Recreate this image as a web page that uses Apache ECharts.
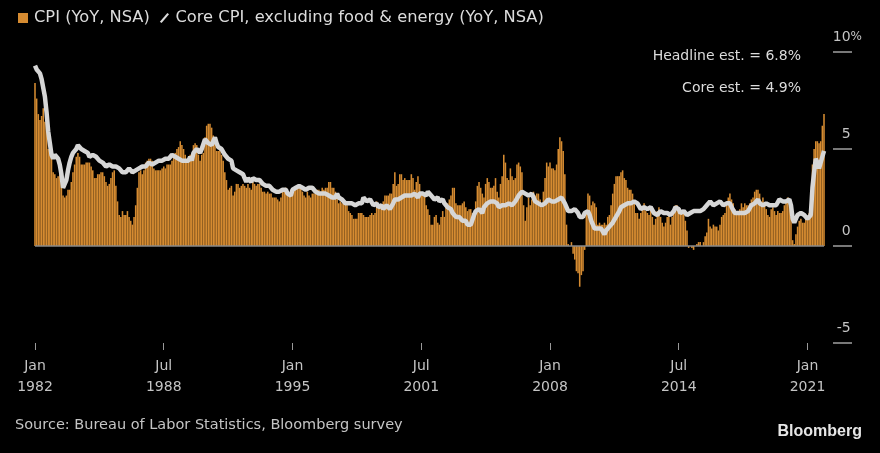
<!DOCTYPE html>
<html>
<head>
<meta charset="utf-8">
<script src="https://cdn.jsdelivr.net/npm/echarts@6/dist/echarts.min.js"></script>
<style>
html,body{margin:0;padding:0;background:#000;}
#chart{width:880px;height:453px;}
</style>
</head>
<body>
<div id="chart"></div>
<script>
// Monthly data, Jan 1982 .. Nov 2021 (last month = Bloomberg survey estimate)
var startYear = 1982;
var monthNames = ['Jan','Feb','Mar','Apr','May','Jun','Jul','Aug','Sep','Oct','Nov','Dec'];

var cpiYoY = [
 8.4,7.6,6.8,6.5,6.7,7.1,6.4,5.9,5.0,5.1,4.6,3.8,
 3.7,3.5,3.6,3.9,3.5,2.6,2.5,2.6,2.9,2.9,3.3,3.8,
 4.2,4.6,4.8,4.6,4.2,4.2,4.2,4.3,4.3,4.3,4.1,3.9,
 3.5,3.5,3.7,3.7,3.8,3.8,3.6,3.3,3.1,3.2,3.5,3.8,
 3.9,3.1,2.3,1.6,1.5,1.8,1.6,1.6,1.8,1.5,1.3,1.1,
 1.5,2.1,3.0,3.8,3.9,3.7,3.9,4.3,4.4,4.5,4.5,4.4,
 4.0,3.9,3.9,3.9,3.9,4.0,4.1,4.0,4.2,4.2,4.2,4.4,
 4.7,4.8,5.0,5.1,5.4,5.2,5.0,4.7,4.3,4.5,4.7,4.6,
 5.2,5.3,5.2,4.7,4.4,4.7,4.8,5.6,6.2,6.3,6.3,6.1,
 5.7,5.3,4.9,4.9,5.0,4.7,4.4,3.8,3.4,2.9,3.0,3.1,
 2.6,2.8,3.2,3.2,3.0,3.1,3.2,3.1,3.0,3.2,3.0,2.9,
 3.3,3.2,3.1,3.2,3.2,3.0,2.8,2.8,2.7,2.8,2.7,2.7,
 2.5,2.5,2.5,2.4,2.3,2.5,2.8,2.9,3.0,2.6,2.7,2.7,
 2.8,2.9,2.9,3.1,3.2,3.0,2.8,2.6,2.5,2.8,2.6,2.5,
 2.7,2.7,2.8,2.9,2.9,2.8,3.0,2.9,3.0,3.0,3.3,3.3,
 3.0,3.0,2.8,2.5,2.2,2.3,2.2,2.2,2.2,2.1,1.8,1.7,
 1.6,1.4,1.4,1.4,1.7,1.7,1.7,1.6,1.5,1.5,1.5,1.6,
 1.7,1.6,1.7,2.3,2.1,2.0,2.1,2.3,2.6,2.6,2.6,2.7,
 2.7,3.2,3.8,3.1,3.2,3.7,3.7,3.4,3.5,3.4,3.4,3.4,
 3.7,3.5,2.9,3.3,3.6,3.2,2.7,2.7,2.6,2.1,1.9,1.6,
 1.1,1.1,1.5,1.6,1.2,1.1,1.5,1.8,1.5,2.0,2.2,2.4,
 2.6,3.0,3.0,2.2,2.1,2.1,2.1,2.2,2.3,2.0,1.8,1.9,
 1.9,1.7,1.7,2.3,3.1,3.3,3.0,2.7,2.5,3.2,3.5,3.3,
 3.0,3.0,3.1,3.5,2.8,2.5,3.2,3.6,4.7,4.3,3.5,3.4,
 4.0,3.6,3.4,3.5,4.2,4.3,4.1,3.8,2.1,1.3,2.0,2.5,
 2.1,2.4,2.8,2.6,2.7,2.7,2.4,2.0,2.8,3.5,4.3,4.1,
 4.3,4.0,4.0,3.9,4.2,5.0,5.6,5.4,4.9,3.7,1.1,0.1,
 0.0,0.2,-0.4,-0.7,-1.3,-1.4,-2.1,-1.5,-1.3,-0.2,1.8,2.7,
 2.6,2.1,2.3,2.2,2.0,1.1,1.2,1.1,1.1,1.2,1.1,1.5,
 1.6,2.1,2.7,3.2,3.6,3.6,3.6,3.8,3.9,3.5,3.4,3.0,
 2.9,2.9,2.7,2.3,1.7,1.7,1.4,1.7,2.0,2.2,1.8,1.7,
 1.6,2.0,1.5,1.1,1.4,1.8,2.0,1.5,1.2,1.0,1.2,1.5,
 1.6,1.1,1.5,2.0,2.1,2.1,2.0,1.7,1.7,1.7,1.3,0.8,
 -0.1,0.0,-0.1,-0.2,0.0,0.1,0.2,0.2,0.0,0.2,0.5,0.7,
 1.4,1.0,0.9,1.1,1.0,1.0,0.8,1.1,1.5,1.6,1.7,2.1,
 2.5,2.7,2.4,2.2,1.9,1.6,1.7,1.9,2.2,2.0,2.2,2.1,
 2.1,2.2,2.4,2.5,2.8,2.9,2.9,2.7,2.3,2.5,2.2,1.9,
 1.6,1.5,1.9,2.0,1.8,1.6,1.8,1.7,1.7,1.8,2.1,2.3,
 2.5,2.3,1.5,0.3,0.1,0.6,1.0,1.3,1.4,1.2,1.2,1.4,
 1.4,1.7,2.6,4.2,5.0,5.4,5.4,5.3,5.4,6.2,6.8
];

var coreYoY = [
 9.3,9.1,9.0,8.9,8.6,8.5,7.7,6.9,5.9,5.3,4.7,4.5,
 4.7,4.7,4.5,4.2,3.7,3.0,3.1,3.4,3.9,4.3,4.6,4.8,
 4.9,5.0,5.2,5.1,5.0,5.0,4.9,4.9,4.8,4.6,4.6,4.7,
 4.8,4.6,4.5,4.4,4.3,4.3,4.2,4.1,4.1,4.2,4.1,4.1,
 4.1,4.1,4.0,4.0,3.9,3.8,3.7,3.8,3.9,4.0,4.0,3.8,
 3.8,3.9,3.9,4.0,4.1,4.1,4.0,4.1,4.2,4.3,4.2,4.2,
 4.3,4.3,4.3,4.4,4.4,4.4,4.5,4.5,4.6,4.5,4.4,4.7,
 4.6,4.6,4.6,4.5,4.4,4.4,4.4,4.4,4.4,4.4,4.6,4.4,
 4.8,4.9,5.0,4.9,4.8,5.0,5.0,5.5,5.5,5.3,5.3,5.2,
 5.3,5.6,5.3,5.1,5.1,5.0,4.9,4.7,4.6,4.5,4.5,4.4,
 4.0,3.9,3.9,3.9,3.8,3.8,3.7,3.5,3.3,3.5,3.5,3.3,
 3.5,3.5,3.4,3.4,3.4,3.3,3.2,3.2,3.1,3.2,3.1,3.2,
 2.9,2.8,2.8,2.8,2.8,2.9,2.9,2.9,2.9,2.7,2.8,2.6,
 2.9,3.0,3.0,3.1,3.1,3.0,3.0,2.9,2.9,3.0,3.0,3.0,
 3.0,2.9,2.8,2.7,2.7,2.7,2.7,2.6,2.7,2.6,2.6,2.6,
 2.5,2.5,2.5,2.7,2.5,2.4,2.4,2.3,2.2,2.3,2.2,2.2,
 2.2,2.3,2.1,2.1,2.2,2.2,2.2,2.5,2.5,2.3,2.4,2.4,
 2.4,2.1,2.1,2.2,2.0,2.1,2.1,1.9,2.0,2.1,2.1,1.9,
 2.0,2.2,2.4,2.3,2.4,2.5,2.5,2.6,2.6,2.5,2.6,2.6,
 2.6,2.7,2.7,2.6,2.5,2.7,2.7,2.7,2.6,2.6,2.8,2.7,
 2.6,2.6,2.4,2.5,2.5,2.3,2.2,2.4,2.2,2.2,2.0,1.9,
 1.9,1.7,1.7,1.5,1.6,1.5,1.5,1.3,1.2,1.3,1.1,1.1,
 1.1,1.2,1.6,1.8,1.7,1.9,1.8,1.7,2.0,2.0,2.2,2.2,
 2.3,2.4,2.3,2.2,2.2,2.0,2.1,2.1,2.0,2.1,2.1,2.2,
 2.1,2.1,2.1,2.3,2.4,2.6,2.7,2.8,2.9,2.7,2.6,2.6,
 2.7,2.7,2.5,2.3,2.2,2.2,2.2,2.1,2.1,2.2,2.3,2.4,
 2.5,2.3,2.4,2.3,2.3,2.4,2.5,2.5,2.5,2.2,2.0,1.8,
 1.7,1.8,1.8,1.9,1.8,1.7,1.5,1.4,1.5,1.7,1.7,1.8,
 1.6,1.3,1.1,0.9,0.9,0.9,0.9,0.9,0.8,0.6,0.8,0.8,
 1.0,1.1,1.2,1.3,1.5,1.6,1.8,2.0,2.0,2.1,2.2,2.2,
 2.3,2.2,2.3,2.3,2.3,2.2,2.1,1.9,2.0,2.0,1.9,1.9,
 1.9,2.0,1.9,1.7,1.7,1.6,1.7,1.8,1.7,1.7,1.7,1.7,
 1.6,1.6,1.7,1.8,2.0,1.9,1.9,1.7,1.7,1.8,1.7,1.6,
 1.6,1.7,1.8,1.8,1.7,1.8,1.8,1.8,1.9,1.9,2.0,2.1,
 2.2,2.3,2.2,2.1,2.2,2.2,2.2,2.3,2.2,2.1,2.1,2.2,
 2.3,2.2,2.0,1.9,1.7,1.7,1.7,1.7,1.7,1.8,1.7,1.8,
 1.8,1.8,2.1,2.1,2.2,2.3,2.4,2.2,2.2,2.1,2.2,2.2,
 2.2,2.1,2.0,2.1,2.0,2.1,2.2,2.4,2.4,2.3,2.3,2.3,
 2.3,2.4,2.1,1.4,1.2,1.2,1.6,1.7,1.7,1.6,1.6,1.6,
 1.4,1.3,1.6,3.0,3.8,4.5,4.3,4.0,4.0,4.6,4.9
];

var xTickIdx = [0, 78, 156, 234, 312, 390, 468];
var yTicks = [-5, 0, 5, 10];
var legendNames = ['CPI (YoY, NSA)', 'Core CPI, excluding food & energy (YoY, NSA)'];
var notes = ['Headline est. = 6.8%', 'Core est. = 4.9%'];
var sourceText = 'Source: Bureau of Labor Statistics, Bloomberg survey';

var FONT = 'DejaVu Sans';
var barData = cpiYoY.map(function (v, i) { return [i, v]; });
var lineData = coreYoY.map(function (v, i) { return [i, v]; });

var chart = echarts.init(document.getElementById('chart'), null, {renderer: 'canvas'});
chart.setOption({
  backgroundColor: '#000',
  animation: false,
  textStyle: {fontFamily: FONT},
  legend: {
    left: 18, top: 10, padding: 0,
    itemWidth: 10, itemHeight: 10, itemGap: 10,
    textStyle: {color: '#dcdcdc', fontSize: 16.3, fontFamily: FONT, padding: [0, 0, 0, 1]},
    data: [
      {name: legendNames[0], icon: 'rect'},
      {name: legendNames[1], icon: 'path://M9,0 L11,1.6 L2,12 L0,10.4 Z'}
    ],
    selectedMode: false
  },
  grid: {left: 35, right: 56, top: 52, bottom: 110},
  xAxis: {
    type: 'value', min: 0, max: cpiYoY.length - 1,
    axisLine: {show: false, onZero: false},
    splitLine: {show: false},
    axisTick: {show: true, customValues: xTickIdx, length: 7, lineStyle: {color: '#9a9a9a', width: 1}},
    axisLabel: {
      customValues: xTickIdx,
      color: '#c4c4c4', fontSize: 14, fontFamily: FONT, lineHeight: 21, margin: 13,
      formatter: function (v) {
        var i = Math.round(v);
        return monthNames[i % 12] + '\n' + (startYear + Math.floor(i / 12));
      }
    }
  },
  yAxis: {
    type: 'value', position: 'right', min: -5, max: 10, interval: 5, offset: 9,
    axisLine: {show: false, onZero: false},
    splitLine: {show: false},
    axisTick: {show: true, inside: false, length: 19, lineStyle: {color: '#a0a0a0', width: 1.5}},
    axisLabel: {
      color: '#c4c4c4', fontSize: 14, fontFamily: FONT, margin: 29,
      align: 'right', verticalAlign: 'bottom', lineHeight: 30,
      formatter: function (v) { return v === 10 ? '{n|10}{p|%}' : '{n|' + v + '}{h|%}'; },
      rich: {
        n: {color: '#c4c4c4', fontSize: 14, fontFamily: FONT},
        p: {color: '#c4c4c4', fontSize: 12, fontFamily: FONT},
        h: {color: 'rgba(0,0,0,0)', fontSize: 12, fontFamily: FONT}
      }
    }
  },
  series: [
    {
      name: legendNames[0], type: 'bar', data: barData,
      barWidth: 1.55, clip: false,
      itemStyle: {color: '#d58b31'},
      markLine: {
        silent: true, symbol: 'none', label: {show: false},
        lineStyle: {color: '#8a8a8a', width: 1.5, type: 'solid'},
        data: [{yAxis: 0}]
      },
      z: 2
    },
    {
      name: legendNames[1], type: 'line', data: lineData,
      symbol: 'none', smooth: false,
      itemStyle: {color: '#dcdcdc'},
      lineStyle: {color: '#d6d6d6', width: 4.5},
      z: 3
    }
  ],
  graphic: [
    {type: 'text', right: 79, top: 49, style: {text: notes[0], fill: '#dcdcdc', font: '14px ' + FONT, textAlign: 'right'}},
    {type: 'text', right: 79, top: 81, style: {text: notes[1], fill: '#dcdcdc', font: '14px ' + FONT, textAlign: 'right'}},
    {type: 'text', left: 15, top: 418, style: {text: sourceText, fill: '#c4c4c4', font: '14.5px ' + FONT}},
    {type: 'text', right: 18, top: 424, style: {text: 'Bloomberg', fill: '#e6e6e6', font: 'bold 16px "Liberation Sans", Arial, sans-serif'}}
  ]
});
</script>
</body>
</html>
